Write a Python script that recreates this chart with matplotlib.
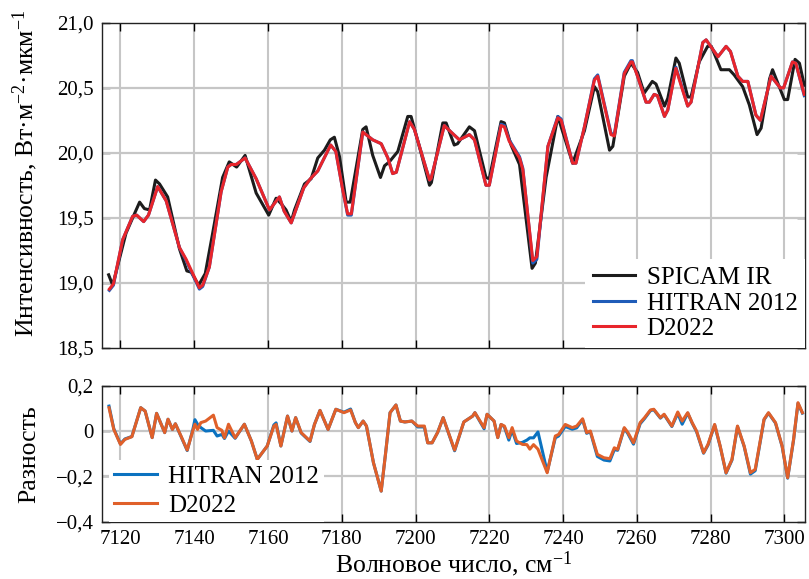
import matplotlib
matplotlib.use("Agg")
import matplotlib.pyplot as plt
from matplotlib.ticker import FixedLocator

plt.rcParams["font.family"] = ["Liberation Serif", "DejaVu Serif"]
plt.rcParams["mathtext.fontset"] = "custom"
plt.rcParams["mathtext.rm"] = "Liberation Serif"
plt.rcParams["mathtext.it"] = "Liberation Serif:italic"
plt.rcParams["axes.unicode_minus"] = True

# ---- data ----
SPICAM_X = [7116.8, 7117.9, 7121.5, 7123.8, 7125.2, 7126.5, 7127.9, 7129.5, 7130.6, 7132.8,
            7136.0, 7138.0, 7139.2, 7141.2, 7143.0, 7145.0, 7147.7, 7149.5, 7151.5, 7153.8,
            7156.8, 7160.2, 7162.2, 7163.8, 7164.9, 7166.3, 7167.2, 7169.9, 7171.7, 7173.5,
            7175.3, 7176.9, 7178.0, 7179.4, 7181.2, 7182.3, 7185.7, 7186.6, 7188.4, 7190.5,
            7191.6, 7192.9, 7195.2, 7197.9, 7198.8, 7201.5, 7203.8, 7204.3, 7207.4, 7208.3,
            7210.5, 7211.4, 7214.6, 7216.0, 7219.1, 7220.0, 7223.2, 7224.1, 7225.9, 7228.2,
            7231.6, 7232.5, 7235.4, 7238.6, 7242.6, 7245.8, 7248.5, 7249.4, 7252.6, 7253.5,
            7256.6, 7258.4, 7260.2, 7262.0, 7264.2, 7265.2, 7267.5, 7268.4, 7270.6, 7271.5,
            7273.8, 7274.7, 7276.9, 7279.2, 7280.2, 7282.8, 7285.1, 7286.4, 7288.7, 7290.5,
            7292.6, 7293.7, 7296.0, 7296.8, 7300.0, 7300.9, 7302.9, 7304.1, 7305.4]
SPICAM_Y = [19.06, 18.98, 19.38, 19.53, 19.62, 19.57, 19.56, 19.79, 19.76, 19.66,
            19.26, 19.09, 19.08, 18.98, 19.07, 19.38, 19.81, 19.93, 19.89, 19.98,
            19.69, 19.52, 19.65, 19.60, 19.56, 19.47, 19.56, 19.76, 19.80, 19.96,
            20.02, 20.10, 20.12, 19.97, 19.62, 19.62, 20.18, 20.20, 19.98, 19.81,
            19.90, 19.93, 20.01, 20.28, 20.28, 20.00, 19.75, 19.77, 20.23, 20.23,
            20.06, 20.07, 20.20, 20.17, 19.81, 19.80, 20.24, 20.23, 20.06, 19.91,
            19.11, 19.15, 19.81, 20.28, 19.92, 20.17, 20.51, 20.47, 20.02, 20.05,
            20.59, 20.69, 20.62, 20.46, 20.55, 20.53, 20.36, 20.42, 20.73, 20.69,
            20.43, 20.43, 20.70, 20.82, 20.82, 20.64, 20.64, 20.60, 20.51, 20.37,
            20.14, 20.19, 20.57, 20.64, 20.41, 20.41, 20.72, 20.69, 20.52]

MODEL_X = [7117.0, 7118.1, 7120.6, 7123.3, 7124.4, 7126.3, 7127.6, 7130.1, 7132.4, 7136.0,
           7137.8, 7141.4, 7142.3, 7144.1, 7147.3, 7149.1, 7150.0, 7151.4, 7153.8, 7156.8,
           7160.4, 7163.1, 7164.4, 7166.3, 7169.7, 7171.5, 7173.5, 7177.0, 7178.4, 7180.3,
           7181.6, 7182.6, 7185.7, 7188.4, 7190.7, 7192.5, 7193.8, 7194.8, 7198.4, 7199.7,
           7203.8, 7204.2, 7207.8, 7210.0, 7211.9, 7214.6, 7216.0, 7219.1, 7220.0, 7223.2,
           7224.1, 7225.4, 7228.2, 7229.1, 7231.8, 7232.9, 7235.9, 7238.6, 7239.5, 7242.6,
           7243.5, 7245.8, 7248.5, 7249.4, 7253.0, 7253.9, 7256.6, 7258.4, 7258.8, 7260.2,
           7262.5, 7263.4, 7264.7, 7265.6, 7267.5, 7268.4, 7270.6, 7272.0, 7273.8, 7274.7,
           7277.9, 7278.8, 7282.0, 7284.2, 7285.4, 7287.4, 7288.7, 7290.1, 7292.3, 7293.5,
           7296.4, 7298.9, 7299.8, 7302.2, 7303.1, 7305.4]
D2022_Y = [18.95, 18.99, 19.33, 19.51, 19.52, 19.47, 19.52, 19.74, 19.63, 19.27,
           19.18, 18.96, 18.98, 19.12, 19.70, 19.89, 19.91, 19.91, 19.96, 19.80,
           19.56, 19.66, 19.55, 19.46, 19.73, 19.80, 19.86, 20.06, 20.01, 19.71,
           19.53, 19.53, 20.16, 20.10, 20.07, 19.96, 19.84, 19.85, 20.24, 20.18,
           19.79, 19.80, 20.21, 20.15, 20.10, 20.14, 20.10, 19.75, 19.75, 20.21,
           20.20, 20.09, 19.96, 19.87, 19.17, 19.20, 20.05, 20.27, 20.25, 19.92,
           19.92, 20.20, 20.56, 20.59, 20.14, 20.13, 20.61, 20.70, 20.70, 20.59,
           20.39, 20.39, 20.45, 20.44, 20.28, 20.33, 20.65, 20.52, 20.36, 20.39,
           20.85, 20.87, 20.74, 20.82, 20.78, 20.59, 20.55, 20.55, 20.29, 20.25,
           20.59, 20.50, 20.50, 20.70, 20.69, 20.45]
HITRAN_Y = [18.94, 18.98, 19.33, 19.51, 19.52, 19.47, 19.52, 19.74, 19.63, 19.27,
            19.17, 18.95, 18.97, 19.12, 19.70, 19.89, 19.91, 19.91, 19.96, 19.80,
            19.56, 19.66, 19.55, 19.46, 19.73, 19.80, 19.86, 20.06, 20.01, 19.71,
            19.52, 19.52, 20.16, 20.10, 20.07, 19.96, 19.84, 19.85, 20.24, 20.18,
            19.79, 19.80, 20.21, 20.15, 20.10, 20.14, 20.10, 19.75, 19.75, 20.22,
            20.21, 20.10, 19.97, 19.88, 19.15, 19.18, 20.05, 20.28, 20.26, 19.92,
            19.92, 20.20, 20.57, 20.60, 20.15, 20.14, 20.62, 20.71, 20.71, 20.59,
            20.39, 20.39, 20.45, 20.44, 20.28, 20.33, 20.66, 20.53, 20.36, 20.39,
            20.85, 20.87, 20.74, 20.82, 20.78, 20.59, 20.55, 20.55, 20.29, 20.25,
            20.59, 20.50, 20.50, 20.70, 20.69, 20.44]

DIFF_X = [7116.9, 7118.2, 7120.0, 7121.2, 7123.1, 7125.5, 7126.7, 7128.6, 7129.8, 7132.0,
          7132.9, 7134.1, 7134.9, 7136.5, 7138.1, 7139.6, 7140.2, 7140.9, 7141.8, 7143.1,
          7145.2, 7146.2, 7147.5, 7148.2, 7149.3, 7151.1, 7153.6, 7155.5, 7157.1, 7159.8,
          7161.6, 7162.2, 7163.5, 7165.3, 7166.5, 7167.5, 7169.0, 7171.4, 7172.6, 7174.1,
          7176.3, 7178.4, 7180.6, 7182.4, 7183.7, 7184.5, 7185.8, 7186.7, 7188.6, 7190.7,
          7191.9, 7193.1, 7194.7, 7195.9, 7197.1, 7199.0, 7200.6, 7202.4, 7203.3, 7204.5,
          7206.0, 7207.5, 7210.6, 7213.1, 7215.5, 7216.1, 7218.6, 7219.4, 7221.3, 7222.3,
          7223.2, 7224.1, 7225.3, 7226.2, 7227.4, 7229.0, 7230.2, 7231.0, 7232.0, 7233.2,
          7235.7, 7237.9, 7238.8, 7240.6, 7242.5, 7243.7, 7245.3, 7246.4, 7247.4, 7249.3,
          7251.1, 7252.7, 7253.9, 7254.8, 7256.6, 7257.6, 7259.1, 7260.9, 7262.1, 7263.7,
          7264.6, 7266.4, 7267.4, 7269.5, 7271.1, 7272.3, 7273.8, 7275.0, 7276.2, 7278.1,
          7279.3, 7281.1, 7282.6, 7284.2, 7285.8, 7287.3, 7289.1, 7290.8, 7292.1, 7294.5,
          7295.7, 7297.6, 7299.4, 7300.9, 7302.5, 7303.7, 7304.9]
D2022_DIFF = [0.103, 0.007, -0.059, -0.037, -0.025, 0.103, 0.088, -0.029, 0.078, -0.007,
              0.052, 0.007, 0.032, -0.025, -0.084, 0.000, 0.030, 0.007, 0.037, 0.044,
              0.070, 0.015, 0.003, -0.030, 0.030, -0.030, 0.030, -0.044, -0.125, -0.066,
              0.022, 0.029, -0.066, 0.066, 0.000, 0.059, -0.007, -0.044, 0.029, 0.091,
              0.007, 0.096, 0.081, 0.093, 0.037, 0.015, 0.044, 0.022, -0.140, -0.265,
              -0.096, 0.081, 0.115, 0.044, 0.040, 0.044, 0.022, 0.022, -0.052, -0.052,
              -0.006, 0.059, -0.084, 0.040, 0.066, 0.081, 0.015, 0.074, 0.044, -0.029,
              0.029, 0.022, -0.029, 0.015, -0.044, -0.059, -0.060, -0.080, -0.060, -0.080,
              -0.184, -0.022, -0.015, 0.029, 0.015, 0.022, 0.054, -0.007, 0.000, -0.103,
              -0.118, -0.122, -0.074, -0.081, 0.015, -0.007, -0.052, 0.037, 0.059, 0.093,
              0.096, 0.059, 0.074, 0.022, 0.084, 0.044, 0.081, 0.037, 0.000, -0.096,
              -0.059, 0.029, -0.066, -0.184, -0.125, 0.022, -0.066, -0.184, -0.169, 0.052,
              0.081, 0.037, -0.066, -0.206, -0.037, 0.125, 0.081]
HITRAN_DIFF = [0.110, 0.010, -0.057, -0.035, -0.024, 0.103, 0.088, -0.029, 0.078, -0.007,
               0.052, 0.007, 0.032, -0.027, -0.086, 0.005, 0.050, 0.030, 0.015, 0.000,
               0.003, -0.022, -0.015, -0.033, 0.000, -0.032, 0.030, -0.044, -0.125, -0.066,
               0.027, 0.036, -0.066, 0.066, 0.000, 0.059, -0.009, -0.046, 0.029, 0.091,
               0.007, 0.096, 0.083, 0.097, 0.037, 0.015, 0.044, 0.022, -0.140, -0.265,
               -0.096, 0.081, 0.115, 0.044, 0.040, 0.044, 0.018, 0.018, -0.052, -0.052,
               -0.006, 0.059, -0.087, 0.040, 0.066, 0.081, 0.010, 0.074, 0.044, -0.029,
               0.029, 0.018, -0.040, 0.005, -0.055, -0.050, -0.040, -0.030, -0.030, -0.004,
               -0.180, -0.030, -0.022, 0.020, 0.008, 0.014, 0.050, -0.010, -0.003, -0.112,
               -0.128, -0.132, -0.082, -0.085, 0.012, -0.012, -0.058, 0.032, 0.055, 0.090,
               0.094, 0.057, 0.072, 0.020, 0.078, 0.030, 0.079, 0.035, -0.003, -0.098,
               -0.062, 0.027, -0.068, -0.186, -0.128, 0.020, -0.068, -0.190, -0.175, 0.050,
               0.079, 0.035, -0.068, -0.208, -0.040, 0.122, 0.079]

X_TICKS = [7120, 7140, 7160, 7180, 7200, 7220, 7240, 7260, 7280, 7300]
TOP_YTICKS = [18.5, 19.0, 19.5, 20.0, 20.5, 21.0]
TOP_YTICK_LABELS = ["18,5", "19,0", "19,5", "20,0", "20,5", "21,0"]
BOT_YTICKS = [-0.4, -0.2, 0.0, 0.2]
BOT_YTICK_LABELS = ["\u22120,4", "\u22120,2", "0", "0,2"]

# ---- style ----
W, H = 809, 579
XLIM = (7115.0, 7305.6)
GRID_COLOR = "#c6c6c6"
BLACK = "#1c1c1c"
TOP_BLUE = "#1f5cb8"
TOP_RED = "#e8252b"
BOT_BLUE = "#0b72c0"
BOT_ORANGE = "#e0602a"
TICK_FS = 15
LABEL_FS = 18.5
LEG_FS = 18
LW = 2.2


def style_axis(ax, yticks, ylabels):
    ax.set_xlim(*XLIM)
    ax.xaxis.set_major_locator(FixedLocator(X_TICKS))
    ax.yaxis.set_major_locator(FixedLocator(yticks))
    ax.set_yticklabels(ylabels)
    ax.set_ylim(yticks[0], yticks[-1])
    ax.tick_params(direction="in", length=6, width=1.0, top=True, right=True,
                   labelsize=TICK_FS, pad=6)
    for sp in ax.spines.values():
        sp.set_linewidth(1.0)
        sp.set_color("#222222")
    ax.set_axisbelow(True)
    ax.xaxis.grid(True, color=GRID_COLOR, linewidth=1.5)
    # horizontal grid at the inner y ticks
    for y in yticks[1:-1]:
        ax.axhline(y, color=GRID_COLOR, linewidth=1.6, zorder=0.6)


fig = plt.figure(figsize=(W / 100, H / 100), dpi=100)
ax1 = fig.add_axes([102 / W, 1 - 347.5 / H, 703 / W, 324.5 / H])
ax2 = fig.add_axes([102 / W, 1 - 521.7 / H, 703 / W, 136 / H])

ax1.plot(SPICAM_X, SPICAM_Y, color=BLACK, lw=LW, label="SPICAM IR", zorder=3)
ax1.plot(MODEL_X, HITRAN_Y, color=TOP_BLUE, lw=LW, label="HITRAN 2012", zorder=4)
ax1.plot(MODEL_X, D2022_Y, color=TOP_RED, lw=LW, label="D2022", zorder=5)
style_axis(ax1, TOP_YTICKS, TOP_YTICK_LABELS)
ax1.tick_params(labelbottom=False)
ax1.set_ylabel("Интенсивность, Вт·м$^{-2}$·мкм$^{-1}$", fontsize=LABEL_FS)
ax1.yaxis.set_label_coords(-0.088, 0.537)
leg1 = ax1.legend(loc="lower right", bbox_to_anchor=(1.0, 0.0), borderaxespad=0.0,
                  fontsize=LEG_FS, frameon=True, fancybox=False, framealpha=1.0,
                  edgecolor="none", handlelength=1.7, handletextpad=0.45,
                  labelspacing=0.12, borderpad=0.3)
leg1.set_zorder(10)

ax2.plot(DIFF_X, HITRAN_DIFF, color=BOT_BLUE, lw=LW, label="HITRAN 2012", zorder=3)
ax2.plot(DIFF_X, D2022_DIFF, color=BOT_ORANGE, lw=LW, label="D2022", zorder=4)
style_axis(ax2, BOT_YTICKS, BOT_YTICK_LABELS)
ax2.set_ylabel("Разность", fontsize=LABEL_FS)
ax2.yaxis.set_label_coords(-0.088, 0.5)
ax2.set_xlabel("Волновое число, см$^{-1}$", fontsize=LABEL_FS)
ax2.xaxis.set_label_coords(0.5, -0.205)
leg2 = ax2.legend(loc="lower left", bbox_to_anchor=(0.01, 0.0), borderaxespad=0.0,
                  fontsize=LEG_FS, frameon=True, fancybox=False, framealpha=1.0,
                  edgecolor="none", handlelength=1.7, handletextpad=0.45,
                  labelspacing=0.25, borderpad=0.2)
leg2.set_zorder(10)

fig.savefig("out.png", dpi=100)
